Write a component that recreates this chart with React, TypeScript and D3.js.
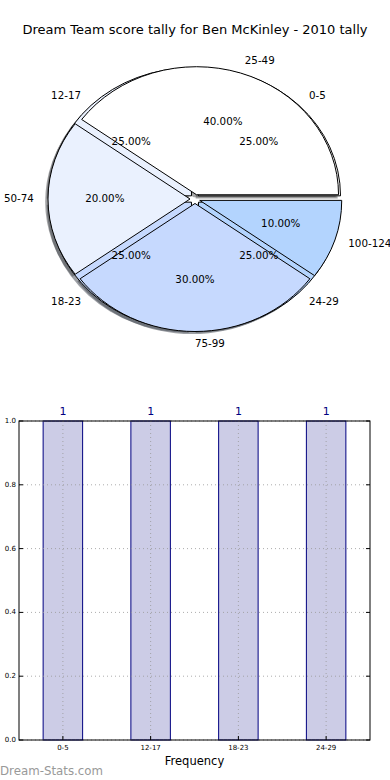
import React from "react";
import * as d3 from "d3";

const titleText = "Dream Team score tally for Ben McKinley - 2010 tally";
const pieLabelsA = ["25-49", "50-74", "75-99", "100-124"];
const pieValuesA = [40, 20, 30, 10];
const pieLabelsB = ["0-5", "12-17", "18-23", "24-29"];
const pieValuesB = [25, 25, 25, 25];
const pieColors = ["#ffffff", "#eaf1fe", "#c6d9fe", "#b3d4fe"];

const barCategories = ["0-5", "12-17", "18-23", "24-29"];
const barValues = [1, 1, 1, 1];
const yTicks = [0, 0.2, 0.4, 0.6, 0.8, 1.0];

const W = 390;
const H = 780;
const cx = 195;
const cy = 199;
const Rx = 142;
const Ry = 128;
const explode = 0.035;

type Wedge = { label: string; value: number; color: string; t1: number; t2: number; pct: number };

function makeWedges(labels: string[], values: number[]): Wedge[] {
  const total = d3.sum(values);
  let acc = 0;
  return values.map((v, i) => {
    const t1 = (acc / total) * 2 * Math.PI;
    acc += v;
    const t2 = (acc / total) * 2 * Math.PI;
    return { label: labels[i], value: v, color: pieColors[i % pieColors.length], t1, t2, pct: (v / total) * 100 };
  });
}

const arcGen = d3.arc<any>().innerRadius(0).outerRadius(1);

function wedgePath(w: Wedge) {
  return arcGen({ startAngle: Math.PI / 2 - w.t2, endAngle: Math.PI / 2 - w.t1 }) as string;
}

function shade(c: string) {
  const r = d3.rgb(c);
  return d3.rgb(r.r * 0.3, r.g * 0.3, r.b * 0.3).formatHex();
}

export default function App() {
  const wedgesB = makeWedges(pieLabelsB, pieValuesB);
  const wedgesA = makeWedges(pieLabelsA, pieValuesA);
  const all = [...wedgesB, ...wedgesA];

  const off = (w: Wedge) => {
    const m = (w.t1 + w.t2) / 2;
    return { dx: explode * Math.cos(m), dy: -explode * Math.sin(m), m };
  };

  const x = d3.scaleLinear().domain([-0.5, 3.5]).range([19, 370]);
  const y = d3.scaleLinear().domain([0, 1]).range([740, 421]);
  const bw = 0.45;

  const font = "DejaVu Sans, sans-serif";

  return (
    <svg width={W} height={H} style={{ position: "absolute", left: 0, top: 0, background: "#fff" }} fontFamily={font}>
      <rect x={0} y={0} width={W} height={H} fill="#fff" />
      <text x={195} y={30} textAnchor="middle" dominantBaseline="middle" fontSize={13} fill="#000">
        {titleText}
      </text>

      {/* shadows */}
      {all.map((w, i) => {
        const o = off(w);
        return (
          <path
            key={"s" + i}
            d={wedgePath(w)}
            transform={`translate(${cx + (o.dx - 0.02) * Rx},${cy + (o.dy + 0.02) * Ry}) scale(${Rx},${Ry})`}
            fill={shade(w.color)}
            fillOpacity={0.5}
            stroke="none"
          />
        );
      })}
      {/* wedges */}
      {all.map((w, i) => {
        const o = off(w);
        return (
          <path
            key={"w" + i}
            d={wedgePath(w)}
            transform={`translate(${cx + o.dx * Rx},${cy + o.dy * Ry}) scale(${Rx},${Ry})`}
            fill={w.color}
            stroke="#000"
            strokeWidth={1}
            vectorEffect="non-scaling-stroke"
            strokeLinejoin="round"
          />
        );
      })}
      {/* labels */}
      {all.map((w, i) => {
        const o = off(w);
        const px = cx + (o.dx + 1.1 * Math.cos(o.m)) * Rx;
        const py = cy + (o.dy - 1.1 * Math.sin(o.m)) * Ry;
        const anchor = Math.cos(o.m) > -1e-9 ? "start" : "end";
        return (
          <text key={"l" + i} x={px} y={py} textAnchor={anchor} dominantBaseline="middle" fontSize={10.3} fill="#000">
            {w.label}
          </text>
        );
      })}
      {all.map((w, i) => {
        const o = off(w);
        const px = cx + (o.dx + 0.6 * Math.cos(o.m)) * Rx;
        const py = cy + (o.dy - 0.6 * Math.sin(o.m)) * Ry;
        return (
          <text key={"p" + i} x={px} y={py} textAnchor="middle" dominantBaseline="middle" fontSize={10.3} fill="#000">
            {w.pct.toFixed(2) + "%"}
          </text>
        );
      })}

      {/* bar chart */}
      {barValues.map((v, i) => (
        <rect
          key={"b" + i}
          x={x(i - bw / 2)}
          y={y(v)}
          width={x(i + bw / 2) - x(i - bw / 2)}
          height={y(0) - y(v)}
          fill="#ccccE6"
          stroke="#000080"
          strokeWidth={1}
        />
      ))}
      {/* grid */}
      {yTicks.map((t, i) => (
        <line key={"gy" + i} x1={19} x2={370} y1={y(t)} y2={y(t)} stroke="#999" strokeWidth={1} strokeDasharray="1,3" opacity={0.8} />
      ))}
      {barCategories.map((c, i) => (
        <line key={"gx" + i} x1={x(i)} x2={x(i)} y1={421} y2={740} stroke="#999" strokeWidth={1} strokeDasharray="1,3" opacity={0.8} />
      ))}
      <rect x={19} y={421} width={351} height={319} fill="none" stroke="#000" strokeWidth={1} />
      {yTicks.map((t, i) => (
        <g key={"ty" + i}>
          <line x1={19} x2={23} y1={y(t)} y2={y(t)} stroke="#000" />
          <line x1={366} x2={370} y1={y(t)} y2={y(t)} stroke="#000" />
          <text x={16} y={y(t)} textAnchor="end" dominantBaseline="middle" fontSize={7} fill="#000">
            {t.toFixed(1)}
          </text>
        </g>
      ))}
      {barCategories.map((c, i) => (
        <g key={"tx" + i}>
          <line x1={x(i)} x2={x(i)} y1={740} y2={736} stroke="#000" />
          <text x={x(i)} y={748} textAnchor="middle" dominantBaseline="middle" fontSize={7} fill="#000">
            {c}
          </text>
          <text x={x(i)} y={412} textAnchor="middle" dominantBaseline="middle" fontSize={11} fill="#000080">
            {String(barValues[i])}
          </text>
        </g>
      ))}
      <text x={194.5} y={761} textAnchor="middle" dominantBaseline="middle" fontSize={11.5} fill="#000">
        Frequency
      </text>
      <text x={0} y={771} textAnchor="start" dominantBaseline="middle" fontSize={11.8} fill="#999">
        Dream-Stats.com
      </text>
    </svg>
  );
}
